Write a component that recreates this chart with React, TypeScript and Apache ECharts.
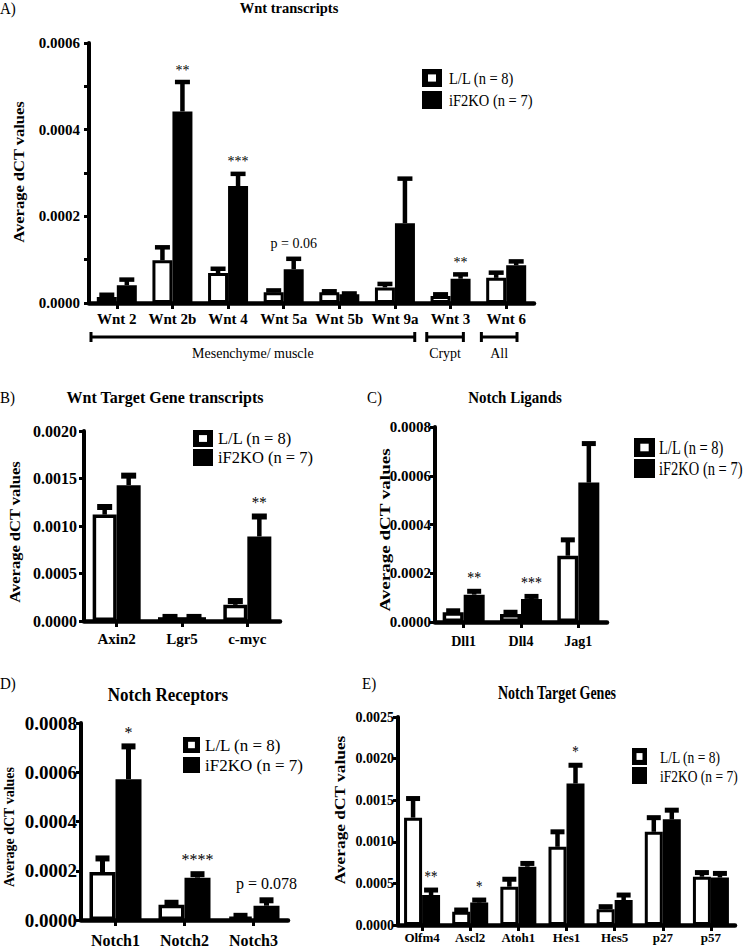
import React, { useEffect, useRef } from 'react';
import * as echarts from 'echarts';

const SERIF = '"Liberation Serif", "Times New Roman", Times, serif';
const legendNames = ['L/L (n = 8)', 'iF2KO (n = 7)'];

// ---- Panel A: Wnt transcripts
const wntCategories = ['Wnt 2', 'Wnt 2b', 'Wnt 4', 'Wnt 5a', 'Wnt 5b', 'Wnt 9a', 'Wnt 3', 'Wnt 6'];
const wntLL = [0.000014, 0.0000985, 0.000069, 0.000025, 0.000025, 0.000036, 0.000016, 0.000058];
const wntLLSem = [0.000005, 0.00003, 0.00001, 0.000004, 0.000002, 0.000008, 0.000004, 0.000012];
const wntKO = [0.000041, 0.000442, 0.00027, 0.000078, 0.00002, 0.000184, 0.000056, 0.000087];
const wntKOSem = [0.000013, 0.000068, 0.000028, 0.000024, 0.000002, 0.000103, 0.00001, 0.000009];
const wntSig = ['', '**', '***', 'p = 0.06', '', '', '**', ''];
const wntTicks = ['0.0000', '0.0002', '0.0004', '0.0006'];
const wntGroups = [
  { label: 'Mesenchyme/ muscle', from: 0, to: 6 },
  { label: 'Crypt', from: 6, to: 7 },
  { label: 'All', from: 7, to: 8 },
];

// ---- Panel B: Wnt target genes
const targetCategories = ['Axin2', 'Lgr5', 'c-myc'];
const targetLL = [0.00112, 0.00004, 0.00017];
const targetLLSem = [0.00008, 0.000003, 0.00004];
const targetKO = [0.00143, 0.00004, 0.00089];
const targetKOSem = [0.0001, 0.000003, 0.00021];
const targetSig = ['', '', '**'];
const targetTicks = ['0.0000', '0.0005', '0.0010', '0.0015', '0.0020'];

// ---- Panel C: Notch ligands
const ligandCategories = ['Dll1', 'Dll4', 'Jag1'];
const ligandLL = [0.00004, 0.000033, 0.000272];
const ligandLLSem = [0.000006, 0.000007, 0.000065];
const ligandKO = [0.000112, 0.000094, 0.000572];
const ligandKOSem = [0.000014, 0.000011, 0.00016];
const ligandSig = ['**', '***', ''];
const ligandTicks = ['0.0000', '0.0002', '0.0004', '0.0006', '0.0008'];

// ---- Panel D: Notch receptors
const receptorCategories = ['Notch1', 'Notch2', 'Notch3'];
const receptorLL = [0.000195, 0.000062, 0.000014];
const receptorLLSem = [0.000055, 0.000008, 0.000003];
const receptorKO = [0.000572, 0.000172, 0.000058];
const receptorKOSem = [0.000133, 0.000014, 0.000022];
const receptorSig = ['*', '****', 'p = 0.078'];
const receptorTicks = ['0.0000', '0.0002', '0.0004', '0.0006', '0.0008'];

// ---- Panel E: Notch target genes
const notchTargetCategories = ['Olfm4', 'Ascl2', 'Atoh1', 'Hes1', 'Hes5', 'p27', 'p57'];
const notchTargetLL = [0.00129, 0.00016, 0.00046, 0.00094, 0.00019, 0.00112, 0.00058];
const notchTargetLLSem = [0.00023, 0.00002, 0.00009, 0.00018, 0.00003, 0.00017, 0.00005];
const notchTargetKO = [0.00036, 0.00027, 0.0007, 0.0017, 0.0003, 0.00127, 0.00057];
const notchTargetKOSem = [0.00006, 0.00003, 0.00004, 0.00022, 0.00006, 0.00011, 0.00005];
const notchTargetSig = ['**', '*', '', '*', '', '', ''];
const notchTargetTicks = ['0.0000', '0.0005', '0.0010', '0.0015', '0.0020', '0.0025'];

type Panel = {
  letter: string; letterX: number; letterY: number;
  title: string; titleX: number; titleY: number; titleSize: number; titleScaleY: number;
  cats: string[]; ll: number[]; llSem: number[]; ko: number[]; koSem: number[]; sig: string[]; ticks: string[];
  left: number; top: number; width: number; height: number;
  barWidth: number; border: number; capW: number; capH: number; stemW: number;
  tickFont: number; tickMargin: number; catFont: number; catMargin: number;
  sigFont: number; sigScaleY: number; minor: boolean;
  yTitleX: number; yTitleY: number; yTitleSize: number; yTitleScale: number;
  legX: number; legY1: number; legY2: number; legW: number; legH: number; legTextX: number; legFont: number; legScaleY: number;
};

const panels: Panel[] = [
  {
    letter: 'A)', letterX: 0, letterY: 8, title: 'Wnt transcripts', titleX: 289, titleY: 8, titleSize: 14.5, titleScaleY: 1.05,
    cats: wntCategories, ll: wntLL, llSem: wntLLSem, ko: wntKO, koSem: wntKOSem, sig: wntSig, ticks: wntTicks,
    left: 89, top: 43, width: 445, height: 260,
    barWidth: 20, border: 3, capW: 15, capH: 4.5, stemW: 4.5,
    tickFont: 15, tickMargin: 9, catFont: 15, catMargin: 8, sigFont: 14, sigScaleY: 1.05, minor: true,
    yTitleX: 19, yTitleY: 172, yTitleSize: 15, yTitleScale: 1.1,
    legX: 422, legY1: 69, legY2: 91, legW: 20, legH: 18, legTextX: 449, legFont: 14.5, legScaleY: 1.1,
  },
  {
    letter: 'B)', letterX: 0, letterY: 397, title: 'Wnt Target Gene transcripts', titleX: 165, titleY: 397, titleSize: 16, titleScaleY: 1.0,
    cats: targetCategories, ll: targetLL, llSem: targetLLSem, ko: targetKO, koSem: targetKOSem, sig: targetSig, ticks: targetTicks,
    left: 84, top: 431, width: 196, height: 190,
    barWidth: 24, border: 3.5, capW: 15, capH: 6, stemW: 4.5,
    tickFont: 16, tickMargin: 7, catFont: 15, catMargin: 10, sigFont: 15, sigScaleY: 1.1, minor: false,
    yTitleX: 15, yTitleY: 532, yTitleSize: 15, yTitleScale: 1.1,
    legX: 193, legY1: 430, legY2: 449, legW: 20, legH: 17, legTextX: 218, legFont: 16.5, legScaleY: 1.05,
  },
  {
    letter: 'C)', letterX: 367, letterY: 397, title: 'Notch Ligands', titleX: 515, titleY: 397, titleSize: 15, titleScaleY: 1.05,
    cats: ligandCategories, ll: ligandLL, llSem: ligandLLSem, ko: ligandKO, koSem: ligandKOSem, sig: ligandSig, ticks: ligandTicks,
    left: 435, top: 427, width: 172, height: 195,
    barWidth: 21, border: 3.5, capW: 14, capH: 5, stemW: 4.5,
    tickFont: 15, tickMargin: 4, catFont: 14, catMargin: 12, sigFont: 14, sigScaleY: 1.2, minor: false,
    yTitleX: 385, yTitleY: 530, yTitleSize: 15, yTitleScale: 1.27,
    legX: 634, legY1: 438, legY2: 459, legW: 21, legH: 19, legTextX: 659, legFont: 14.5, legScaleY: 1.25,
  },
  {
    letter: 'D)', letterX: 0, letterY: 683, title: 'Notch Receptors', titleX: 168, titleY: 695, titleSize: 17, titleScaleY: 1.1,
    cats: receptorCategories, ll: receptorLL, llSem: receptorLLSem, ko: receptorKO, koSem: receptorKOSem, sig: receptorSig, ticks: receptorTicks,
    left: 81, top: 723, width: 207, height: 197,
    barWidth: 26, border: 3.5, capW: 14, capH: 6, stemW: 5,
    tickFont: 19, tickMargin: 4, catFont: 16, catMargin: 12, sigFont: 16, sigScaleY: 1.05, minor: false,
    yTitleX: 9, yTitleY: 827, yTitleSize: 14, yTitleScale: 1.0,
    legX: 183, legY1: 737, legY2: 757, legW: 17, legH: 16, legTextX: 205, legFont: 17, legScaleY: 1.0,
  },
  {
    letter: 'E)', letterX: 362, letterY: 683, title: 'Notch Target Genes', titleX: 557, titleY: 693, titleSize: 14, titleScaleY: 1.3,
    cats: notchTargetCategories, ll: notchTargetLL, llSem: notchTargetLLSem, ko: notchTargetKO, koSem: notchTargetKOSem, sig: notchTargetSig, ticks: notchTargetTicks,
    left: 398, top: 717, width: 337, height: 208,
    barWidth: 18, border: 3, capW: 14, capH: 5, stemW: 4.5,
    tickFont: 14, tickMargin: 4, catFont: 13, catMargin: 6, sigFont: 13, sigScaleY: 1.3, minor: false,
    yTitleX: 340, yTitleY: 810, yTitleSize: 14, yTitleScale: 1.24,
    legX: 632, legY1: 748, legY2: 767, legW: 15, legH: 17, legTextX: 660, legFont: 13.5, legScaleY: 1.3,
  },
];

function text(x: number, y: number, t: string, size: number, opts: any = {}) {
  return {
    type: 'text', x, y, silent: true,
    scaleX: opts.scaleX ?? 1, scaleY: opts.scaleY ?? 1, rotation: opts.rotation ?? 0,
    style: {
      text: t, fill: '#000', fontSize: size, fontFamily: SERIF,
      fontWeight: opts.bold ? 'bold' : 'normal',
      align: opts.align ?? 'center', verticalAlign: opts.verticalAlign ?? 'middle',
    },
  };
}

function errorSeries(p: Panel, k: number, means: number[], sems: number[], offset: number, sig: string[] | null) {
  return {
    type: 'custom', xAxisIndex: k, yAxisIndex: k, z: 5, silent: true, clip: false,
    itemStyle: { color: '#000' },
    encode: { x: 0, y: 2 },
    data: means.map((m, i) => [i, m, m + sems[i]]),
    renderItem: (params: any, api: any) => {
      const cat = api.value(0);
      const top = api.coord([cat, api.value(2)]);
      const base = api.coord([cat, api.value(1)]);
      const x = top[0] + offset;
      const children: any[] = [
        { type: 'rect', shape: { x: x - p.stemW / 2, y: top[1], width: p.stemW, height: Math.max(0, base[1] - top[1]) }, style: { fill: '#000' } },
        { type: 'rect', shape: { x: x - p.capW / 2, y: top[1] - p.capH / 2, width: p.capW, height: p.capH }, style: { fill: '#000' } },
      ];
      const s = sig ? sig[params.dataIndex] : '';
      if (s) {
        const gap = s.indexOf('p') === 0 ? 6 : 3;
        children.push({
          type: 'text', x, y: top[1] - p.capH / 2 - gap, scaleY: p.sigScaleY,
          style: { text: s, fill: '#000', stroke: 'none', fontSize: p.sigFont, fontFamily: SERIF, align: 'center', verticalAlign: 'bottom' },
        });
      }
      return { type: 'group', children };
    },
  };
}

function buildOption() {
  const graphic: any[] = [];
  panels.forEach((p) => {
    graphic.push(text(p.letterX, p.letterY, p.letter, 15, { align: 'left', scaleY: 1.1 }));
    graphic.push(text(p.titleX, p.titleY, p.title, p.titleSize, { bold: true, scaleY: p.titleScaleY }));
    graphic.push(text(p.yTitleX, p.yTitleY, 'Average dCT values', p.yTitleSize, { bold: true, rotation: Math.PI / 2, scaleX: p.yTitleScale }));
    // legend boxes
    const insX = p.legW * 0.3, insY = p.legH * 0.3;
    graphic.push({ type: 'rect', silent: true, shape: { x: p.legX, y: p.legY1, width: p.legW, height: p.legH }, style: { fill: '#000' } });
    graphic.push({ type: 'rect', silent: true, shape: { x: p.legX + insX, y: p.legY1 + insY, width: p.legW - 2 * insX, height: p.legH - 2 * insY }, style: { fill: '#fff' } });
    graphic.push({ type: 'rect', silent: true, shape: { x: p.legX, y: p.legY2, width: p.legW, height: p.legH }, style: { fill: '#000' } });
    graphic.push(text(p.legTextX, p.legY1 + p.legH / 2, legendNames[0], p.legFont, { align: 'left', scaleY: p.legScaleY }));
    graphic.push(text(p.legTextX, p.legY2 + p.legH / 2, legendNames[1], p.legFont, { align: 'left', scaleY: p.legScaleY }));
  });

  // brackets for panel A
  const A = panels[0];
  const band = A.width / A.cats.length;
  const insets = [[2, 8], [4, 15], [3, 17]];
  const by = A.top + A.height + 34;
  wntGroups.forEach((g, gi) => {
    const x1 = A.left + band * g.from + insets[gi][0];
    const x2 = A.left + band * g.to - insets[gi][1];
    graphic.push({ type: 'line', silent: true, shape: { x1, y1: by, x2, y2: by }, style: { stroke: '#000', lineWidth: 3 } });
    graphic.push({ type: 'line', silent: true, shape: { x1, y1: by - 5, x2: x1, y2: by + 5 }, style: { stroke: '#000', lineWidth: 3 } });
    graphic.push({ type: 'line', silent: true, shape: { x1: x2, y1: by - 5, x2, y2: by + 5 }, style: { stroke: '#000', lineWidth: 3 } });
    graphic.push(text((x1 + x2) / 2, by + 16, g.label, 14, { scaleY: 1.1 }));
  });

  const series: any[] = [];
  panels.forEach((p, k) => {
    series.push({
      type: 'bar', name: legendNames[0], xAxisIndex: k, yAxisIndex: k, data: p.ll,
      barWidth: p.barWidth, barGap: '0%', z: 2, silent: true,
      itemStyle: { color: '#fff', borderColor: '#000', borderWidth: p.border },
    });
    series.push({
      type: 'bar', name: legendNames[1], xAxisIndex: k, yAxisIndex: k, data: p.ko,
      barWidth: p.barWidth, barGap: '0%', z: 2, silent: true,
      itemStyle: { color: '#000', borderColor: '#000', borderWidth: p.border },
    });
    series.push(errorSeries(p, k, p.ll, p.llSem, -p.barWidth / 2, null));
    series.push(errorSeries(p, k, p.ko, p.koSem, p.barWidth / 2, p.sig));
  });

  return {
    animation: false,
    backgroundColor: '#fff',
    color: ['#000'],
    grid: panels.map((p) => ({ left: p.left, top: p.top, width: p.width, height: p.height, containLabel: false, outerBoundsMode: 'none' })),
    xAxis: panels.map((p, k) => ({
      type: 'category', gridIndex: k, data: p.cats,
      axisLine: { show: true, lineStyle: { color: '#000', width: 4.5 } },
      axisTick: { show: true, alignWithLabel: true, length: 6, lineStyle: { color: '#000', width: 3 } },
      axisLabel: { interval: 0, color: '#000', fontFamily: SERIF, fontWeight: 'bold', fontSize: p.catFont, margin: p.catMargin },
      splitLine: { show: false },
    })),
    yAxis: panels.map((p, k) => ({
      type: 'value', gridIndex: k, min: 0,
      max: Number(p.ticks[p.ticks.length - 1]), interval: Number(p.ticks[1]),
      axisLine: { show: true, lineStyle: { color: '#000', width: 4 } },
      axisTick: { show: true, length: 5, lineStyle: { color: '#000', width: 3 } },
      minorTick: { show: p.minor, splitNumber: 2, length: 5, lineStyle: { color: '#000', width: 3 } },
      splitLine: { show: false },
      axisLabel: {
        color: '#000', fontFamily: SERIF, fontWeight: 'bold', fontSize: p.tickFont, margin: p.tickMargin,
        formatter: (v: number) => {
          const i = Math.round(v / Number(p.ticks[1]));
          return p.ticks[i] ?? v.toFixed(4);
        },
      },
    })),
    series,
    graphic,
  };
}

export default function App() {
  const ref = useRef<HTMLDivElement>(null);
  useEffect(() => {
    if (!ref.current) return;
    const chart = echarts.init(ref.current, null, { renderer: 'svg' });
    chart.setOption(buildOption() as any);
    return () => chart.dispose();
  }, []);
  return (
    <div
      ref={ref}
      style={{ position: 'fixed', left: 0, top: 0, width: 745, height: 952, background: '#fff' }}
    />
  );
}
